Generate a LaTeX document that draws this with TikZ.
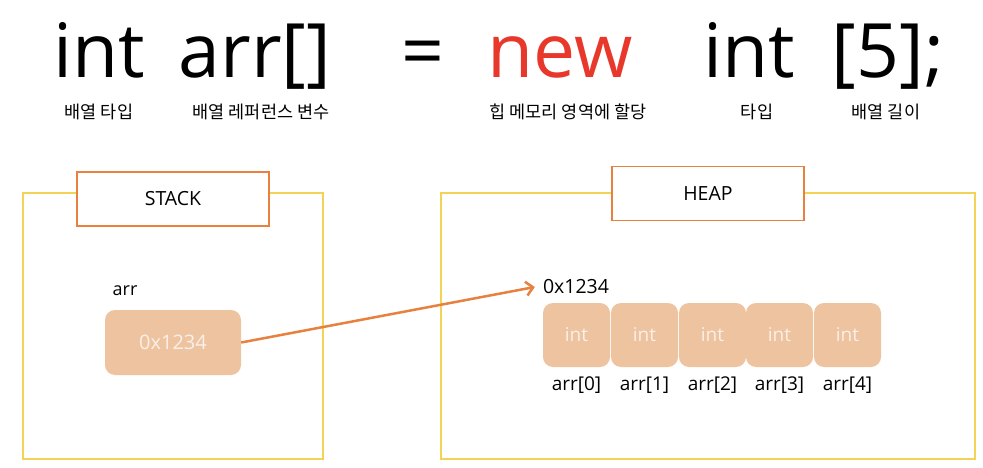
\documentclass[tikz,border=0pt]{standalone}
\usepackage{fontspec}
\setmainfont{Open Sans}
\newfontfamily\kr{Noto Sans CJK KR}
\usetikzlibrary{arrows.meta}
\definecolor{yel}{HTML}{F2D356}
\definecolor{org}{HTML}{E8803E}
\definecolor{peach}{HTML}{EDC3A0}
\definecolor{celltext}{HTML}{FAF0E8}
\definecolor{newred}{HTML}{E8382B}
\tikzset{
  big/.style={inner sep=0pt, anchor=base, font=\fontsize{75}{80}\selectfont},
  krlbl/.style={inner sep=0pt, font=\kr\fontsize{17.5}{20}\selectfont},
  region/.style={draw=yel, line width=1.5pt},
  titlebox/.style={draw=org, fill=white, line width=1.3pt, minimum width=192pt, minimum height=54pt, inner sep=0pt, font=\fontsize{19.5}{22}\selectfont},
  cell/.style={fill=peach, rounded corners=10pt, minimum width=67pt, minimum height=64pt, inner sep=0pt, text=celltext, font=\fontsize{19}{22}\selectfont},
  lbl/.style={inner sep=0pt, font=\fontsize{19}{22}\selectfont},
  ptr/.style={draw=org, line width=2.5pt, -{Straight Barb[length=7pt,width=14pt,line width=2.5pt]}}
}
\begin{document}
\begin{tikzpicture}[x=1pt,y=-1pt]
\useasboundingbox (0,0) rectangle (983,468);
% code line
\node[big] (t1) at (99,78) {int};
\node[big] (t2) at (255,78) {arr[]};
\node[big] (t3) at (423,78) {=};
\node[big, text=newred] (t4) at (560,78) {new};
\node[big] (t5) at (749,78) {int};
\node[big] (t6) at (888,78) {[5];};
% korean labels
\node[krlbl] (k1) at (99,112) {배열 타입};
\node[krlbl] (k2) at (261,112) {배열 레퍼런스 변수};
\node[krlbl] (k3) at (568,112) {힙 메모리 영역에 할당};
\node[krlbl] (k4) at (757,112) {타입};
\node[krlbl] (k5) at (886,112) {배열 길이};
% regions
\draw[region] (23,193) rectangle (323,459);
\draw[region] (441,193) rectangle (975,459);
\node[titlebox] (stk) at (173,199) {STACK};
\node[titlebox] (hp) at (708,193.5) {HEAP};
% stack content
\node[lbl, font=\fontsize{18}{22}\selectfont] (arr) at (125,291) {arr};
\node[cell, minimum width=136pt, minimum height=65pt, font=\fontsize{20}{22}\selectfont] (sval) at (173,342.5) {0x1234};
% heap content
\node[lbl, font=\fontsize{19.5}{22}\selectfont] (haddr) at (576,287) {0x1234};
\foreach \i/\x in {0/576.5,1/644.5,2/712.5,3/779.5,4/847.5}{
  \node[cell] (c\i) at (\x,335) {int};
  \node[lbl] (a\i) at (\x,385) {arr[\i]};
}
% pointer
\draw[ptr] (sval.east) -- ([xshift=-8pt]haddr.west);
\end{tikzpicture}
\end{document}
